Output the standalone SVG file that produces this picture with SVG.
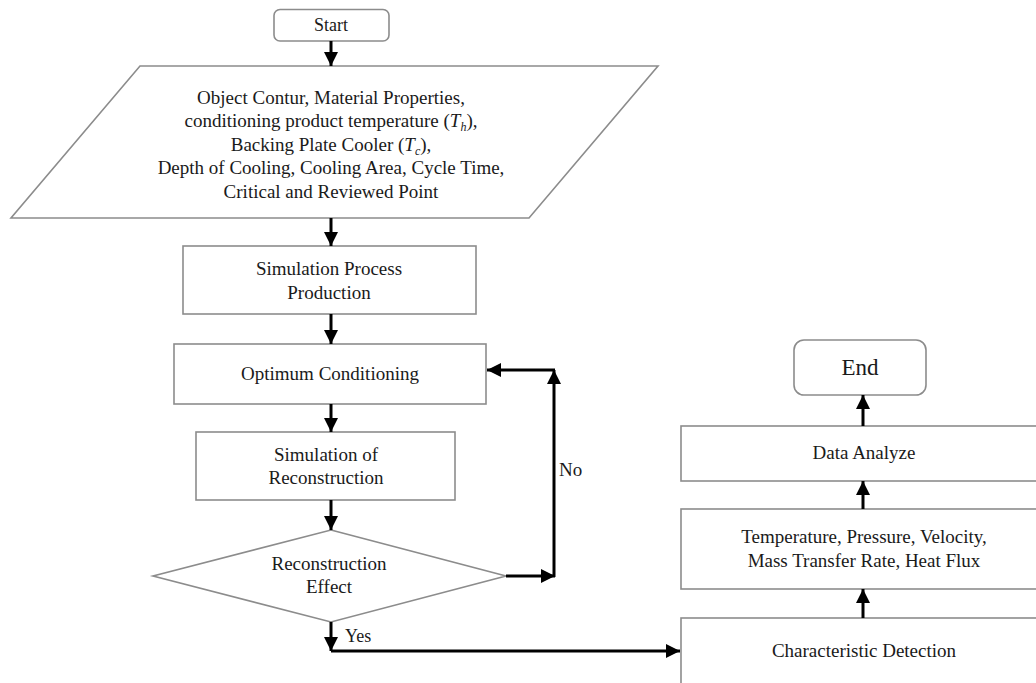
<svg xmlns="http://www.w3.org/2000/svg" width="1036" height="683" viewBox="0 0 1036 683">
<defs>
<style>
.box{fill:#fff;stroke:#8c8c8c;stroke-width:1.6}
.t{font-family:"Liberation Serif","Times New Roman",serif;font-size:19px;fill:#1a1a1a;text-anchor:middle}
.lbl{font-family:"Liberation Serif","Times New Roman",serif;font-size:19px;fill:#1a1a1a}
.c{fill:none;stroke:#000;stroke-width:3}
</style>
<marker id="ah" markerUnits="userSpaceOnUse" markerWidth="14" markerHeight="14" viewBox="0 0 14 14" refX="14" refY="7" orient="auto">
<path d="M0,0 L14,7 L0,14 z" fill="#000"/>
</marker>
</defs>
<rect width="1036" height="683" fill="#fff"/>
<g id="start">
<rect class="box" x="274" y="9.5" width="115" height="31.5" rx="6"/>
<text class="t" x="331" y="31" style="font-size:18px">Start</text>
</g>
<g id="input">
<polygon class="box" points="140,66 658,66 529,218 11,218"/>
<text class="t" x="331" y="103.5">Object Contur, Material Properties,</text>
<text class="t" x="331" y="127">conditioning product temperature (<tspan font-style="italic">T</tspan><tspan font-style="italic" font-size="12" dy="4">h</tspan><tspan dy="-4">),</tspan></text>
<text class="t" x="331" y="150.5">Backing Plate Cooler (<tspan font-style="italic">T</tspan><tspan font-style="italic" font-size="12" dy="4">c</tspan><tspan dy="-4">),</tspan></text>
<text class="t" x="331" y="174">Depth of Cooling, Cooling Area, Cycle Time,</text>
<text class="t" x="331" y="197.5">Critical and Reviewed Point</text>
</g>
<g id="simprocess">
<rect class="box" x="183" y="246" width="293" height="68"/>
<text class="t" x="329" y="275">Simulation Process</text>
<text class="t" x="329" y="299">Production</text>
</g>
<g id="optimum">
<rect class="box" x="174" y="344" width="312" height="60"/>
<text class="t" x="330" y="380">Optimum Conditioning</text>
</g>
<g id="simrecon">
<rect class="box" x="196" y="432" width="259" height="68"/>
<text class="t" x="326" y="461">Simulation of</text>
<text class="t" x="326" y="484">Reconstruction</text>
</g>
<g id="decision">
<polygon class="box" points="331,530 506,576 331,622 153,576"/>
<text class="t" x="329" y="570">Reconstruction</text>
<text class="t" x="329" y="593">Effect</text>
</g>
<g id="end">
<rect class="box" x="794" y="340" width="132" height="55" rx="10"/>
<text class="t" x="860" y="375" style="font-size:23px">End</text>
</g>
<g id="dataanalyze">
<rect class="box" x="681" y="426" width="370" height="55"/>
<text class="t" x="864" y="459">Data Analyze</text>
</g>
<g id="params">
<rect class="box" x="681" y="509" width="370" height="80"/>
<text class="t" x="864" y="543">Temperature, Pressure, Velocity,</text>
<text class="t" x="864" y="567">Mass Transfer Rate, Heat Flux</text>
</g>
<g id="detection">
<rect class="box" x="681" y="618" width="370" height="66"/>
<text class="t" x="864" y="657">Characteristic Detection</text>
</g>
<g id="connectors">
<path class="c" d="M331,41 V66" marker-end="url(#ah)"/>
<path class="c" d="M331,218 V246" marker-end="url(#ah)"/>
<path class="c" d="M331,314 V344" marker-end="url(#ah)"/>
<path class="c" d="M331,404 V432" marker-end="url(#ah)"/>
<path class="c" d="M331,500 V530" marker-end="url(#ah)"/>
<path class="c" d="M506,576 H555" marker-end="url(#ah)"/>
<path class="c" d="M554,577 V370" marker-end="url(#ah)"/>
<path class="c" d="M555,370 H487" marker-end="url(#ah)"/>
<path class="c" d="M331,622 V651" marker-end="url(#ah)"/>
<path class="c" d="M331,651 H680" marker-end="url(#ah)"/>
<path class="c" d="M863,618 V589" marker-end="url(#ah)"/>
<path class="c" d="M863,509 V481" marker-end="url(#ah)"/>
<path class="c" d="M863,426 V395" marker-end="url(#ah)"/>
<text class="lbl" x="559" y="476">No</text>
<text class="lbl" x="345" y="642" style="font-size:18px">Yes</text>
</g>
</svg>
